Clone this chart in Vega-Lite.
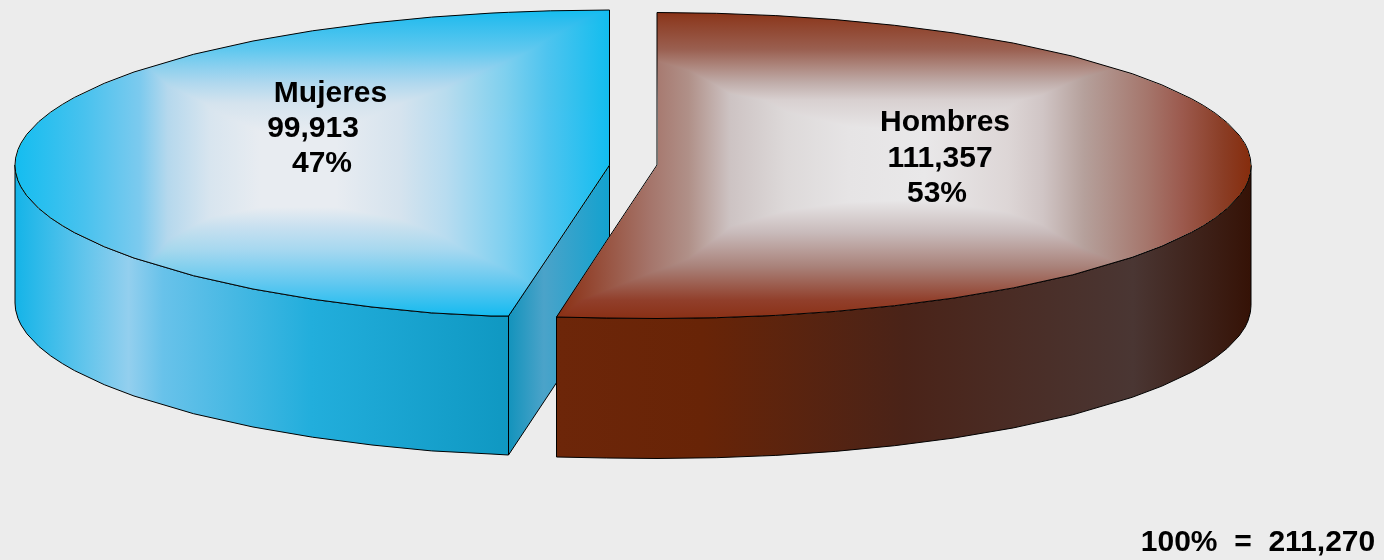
{
"$schema":"https://vega.github.io/schema/vega-lite/v6.json",
"width":1384,"height":560,"padding":0,
"autosize":{"type":"fit","contains":"padding"},
"background":"#ececec",
"config":{"view":{"stroke":null}},
"datasets":{
"blueCut":[{"i":1,"x":508.5,"y":316,"y2":455},{"i":2,"x":609.5,"y":165,"y2":303}],
"blueTop":[
{"i":1,"x":15,"y":165,"y2":165},{"i":2,"x":15.6,"y":158.1,"y2":171.9},{"i":3,"x":18,"y":149.5,"y2":180.5},{"i":4,"x":21,"y":143.1,"y2":186.9},{"i":5,"x":26.9,"y":134.2,"y2":195.8},{"i":6,"x":38.8,"y":121.6,"y2":208.4},{"i":7,"x":50.7,"y":112.1,"y2":217.9},{"i":8,"x":62.6,"y":104.3,"y2":225.7},{"i":9,"x":74.5,"y":97.4,"y2":232.6},{"i":10,"x":104.3,"y":83.3,"y2":246.7},{"i":11,"x":134,"y":72,"y2":258},{"i":12,"x":193.5,"y":54.3,"y2":275.7},{"i":13,"x":253,"y":41,"y2":289},{"i":14,"x":312.5,"y":30.8,"y2":299.2},{"i":15,"x":372,"y":23,"y2":307},{"i":16,"x":431.5,"y":17.1,"y2":312.9},{"i":17,"x":491,"y":13.1,"y2":316},{"i":18,"x":508.5,"y":12.3,"y2":316},{"i":19,"x":550.5,"y":10.8,"y2":253.5},{"i":20,"x":609.5,"y":10,"y2":165}],
"blueSide":[
{"i":1,"x":15,"y":165,"y2":303},{"i":2,"x":15.6,"y":171.9,"y2":309.9},{"i":3,"x":18,"y":180.5,"y2":318.5},{"i":4,"x":21,"y":186.9,"y2":324.9},{"i":5,"x":26.9,"y":195.8,"y2":333.8},{"i":6,"x":38.8,"y":208.4,"y2":346.4},{"i":7,"x":50.7,"y":217.9,"y2":355.9},{"i":8,"x":62.6,"y":225.7,"y2":363.7},{"i":9,"x":74.5,"y":232.6,"y2":370.6},{"i":10,"x":104.3,"y":246.7,"y2":384.7},{"i":11,"x":134,"y":258,"y2":396},{"i":12,"x":193.5,"y":275.7,"y2":413.7},{"i":13,"x":253,"y":289,"y2":427},{"i":14,"x":312.5,"y":299.2,"y2":437.2},{"i":15,"x":372,"y":307,"y2":445},{"i":16,"x":431.5,"y":312.9,"y2":450.9},{"i":17,"x":491,"y":316,"y2":454},{"i":18,"x":508.5,"y":316,"y2":455}],
"brownSide":[
{"i":1,"x":556.5,"y":317,"y2":457},{"i":2,"x":606.5,"y":318,"y2":458},{"i":3,"x":657,"y":318.5,"y2":458.5},{"i":4,"x":716.4,"y":317.7,"y2":457.7},{"i":5,"x":775.8,"y":315.4,"y2":455.4},{"i":6,"x":835.2,"y":311.4,"y2":451.4},{"i":7,"x":894.6,"y":305.7,"y2":445.7},{"i":8,"x":954,"y":298,"y2":438},{"i":9,"x":1013.4,"y":287.9,"y2":427.9},{"i":10,"x":1072.8,"y":274.8,"y2":414.8},{"i":11,"x":1132.2,"y":257.3,"y2":397.3},{"i":12,"x":1161.9,"y":246.1,"y2":386.1},{"i":13,"x":1191.6,"y":232.2,"y2":372.2},{"i":14,"x":1203.5,"y":225.5,"y2":365.5},{"i":15,"x":1215.4,"y":217.7,"y2":357.7},{"i":16,"x":1227.2,"y":208.3,"y2":348.3},{"i":17,"x":1239.1,"y":195.9,"y2":335.9},{"i":18,"x":1245.1,"y":187.1,"y2":327.1},{"i":19,"x":1248,"y":180.8,"y2":320.8},{"i":20,"x":1250.4,"y":172.3,"y2":312.3},{"i":21,"x":1251,"y":165.5,"y2":305.5}],
"brownTop":[
{"i":1,"x":556.5,"y":317,"y2":317},{"i":2,"x":606.5,"y":241,"y2":318},{"i":3,"x":657,"y":165,"y2":318.5},{"i":4,"x":657,"y":12.5,"y2":318.5},{"i":5,"x":716.4,"y":13.3,"y2":317.7},{"i":6,"x":775.8,"y":15.6,"y2":315.4},{"i":7,"x":835.2,"y":19.6,"y2":311.4},{"i":8,"x":894.6,"y":25.3,"y2":305.7},{"i":9,"x":954,"y":33,"y2":298},{"i":10,"x":1013.4,"y":43.1,"y2":287.9},{"i":11,"x":1072.8,"y":56.2,"y2":274.8},{"i":12,"x":1132.2,"y":73.7,"y2":257.3},{"i":13,"x":1161.9,"y":84.9,"y2":246.1},{"i":14,"x":1191.6,"y":98.8,"y2":232.2},{"i":15,"x":1203.5,"y":105.5,"y2":225.5},{"i":16,"x":1215.4,"y":113.3,"y2":217.7},{"i":17,"x":1227.2,"y":122.7,"y2":208.3},{"i":18,"x":1239.1,"y":135.1,"y2":195.9},{"i":19,"x":1245.1,"y":143.9,"y2":187.1},{"i":20,"x":1248,"y":150.2,"y2":180.8},{"i":21,"x":1250.4,"y":158.7,"y2":172.3},{"i":22,"x":1251,"y":165.5,"y2":165.5}],
"labels":[
{"label":"Mujeres","x":330.5,"y":93},{"label":"99,913","x":313,"y":128},{"label":"47%","x":322,"y":163},
{"label":"Hombres","x":945,"y":122},{"label":"111,357","x":940,"y":158},{"label":"53%","x":937,"y":193},
{"label":"100%\u00a0\u00a0=\u00a0\u00a0211,270","x":1258,"y":542}]
},
"encoding":{
"x":{"field":"x","type":"quantitative","axis":null,"scale":{"domain":[0,1384],"nice":false,"zero":false}},
"y":{"field":"y","type":"quantitative","axis":null,"scale":{"domain":[560,0],"nice":false,"zero":false}}
},
"layer":[
{"data":{"name":"blueCut"},"mark":{"type":"area","orient":"vertical","stroke":"#000","strokeWidth":1,"color":{"gradient":"linear","x1":0,"y1":0,"x2":1,"y2":0,"stops":[{"offset":0,"color":"#1393bc"},{"offset":0.35,"color":"#4ba3c9"},{"offset":1,"color":"#12a2cf"}]}},"encoding":{"y2":{"field":"y2"}}},
{"data":{"name":"blueSide"},"mark":{"type":"area","orient":"vertical","stroke":"#000","strokeWidth":1,"color":{"gradient":"linear","x1":0,"y1":0,"x2":1,"y2":0,"stops":[{"offset":0,"color":"#14b4e8"},{"offset":0.23,"color":"#93cfee"},{"offset":0.3,"color":"#68c2ea"},{"offset":0.6,"color":"#22aedc"},{"offset":1,"color":"#0f98c2"}]}},"encoding":{"y2":{"field":"y2"}}},
{"data":{"name":"blueTop"},"mark":{"type":"area","orient":"vertical","color":{"gradient":"linear","x1":0,"y1":0,"x2":1,"y2":0,"stops":[{"offset":0,"color":"#14bdf0"},{"offset":0.116,"color":"#48c2ee"},{"offset":0.21,"color":"#7ccaee"},{"offset":0.257,"color":"#b5d8ed"},{"offset":0.328,"color":"#d8e5ef"},{"offset":0.414,"color":"#e8ecf1"},{"offset":0.54,"color":"#e8ecf1"},{"offset":0.648,"color":"#d5e3ee"},{"offset":0.725,"color":"#b8dcf0"},{"offset":0.824,"color":"#7fd0f0"},{"offset":0.895,"color":"#4ec4ef"},{"offset":1,"color":"#12bdf0"}]}},"encoding":{"y2":{"field":"y2"}}},
{"data":{"name":"blueTop"},"mark":{"type":"area","orient":"vertical","blend":"darken","stroke":"#000","strokeWidth":1,"color":{"gradient":"linear","x1":0,"y1":0,"x2":0,"y2":1,"stops":[{"offset":0,"color":"#12bdf0"},{"offset":0.033,"color":"#2cbdee"},{"offset":0.13,"color":"#60c8ef"},{"offset":0.186,"color":"#8bd0ef"},{"offset":0.239,"color":"#b0d8ee"},{"offset":0.304,"color":"#d4e3ee"},{"offset":0.4,"color":"#e8ecf1"},{"offset":0.644,"color":"#e8ecf1"},{"offset":0.709,"color":"#c8e0f0"},{"offset":0.784,"color":"#a6d8f0"},{"offset":0.892,"color":"#62c8f0"},{"offset":0.99,"color":"#1cbcf0"},{"offset":1,"color":"#12bdf0"}]}},"encoding":{"y2":{"field":"y2"}}},
{"data":{"name":"brownSide"},"mark":{"type":"area","orient":"vertical","stroke":"#000","strokeWidth":1,"color":{"gradient":"linear","x1":0,"y1":0,"x2":1,"y2":0,"stops":[{"offset":0,"color":"#6d2609"},{"offset":0.21,"color":"#682407"},{"offset":0.5,"color":"#4a2318"},{"offset":0.83,"color":"#4a3633"},{"offset":1,"color":"#351206"}]}},"encoding":{"y2":{"field":"y2"}}},
{"data":{"name":"brownTop"},"mark":{"type":"area","orient":"vertical","color":{"gradient":"linear","x1":0,"y1":0,"x2":1,"y2":0,"stops":[{"offset":0,"color":"#8a2e12"},{"offset":0.135,"color":"#a5756b"},{"offset":0.19,"color":"#b09088"},{"offset":0.25,"color":"#cdc3c3"},{"offset":0.33,"color":"#ddd9d9"},{"offset":0.42,"color":"#e6e4e5"},{"offset":0.53,"color":"#e9e8e9"},{"offset":0.65,"color":"#ddd6d6"},{"offset":0.7,"color":"#d0c5c5"},{"offset":0.76,"color":"#b5a09b"},{"offset":0.85,"color":"#a5766c"},{"offset":0.9,"color":"#9c5a4e"},{"offset":0.96,"color":"#8a3d25"},{"offset":1,"color":"#862c0c"}]}},"encoding":{"y2":{"field":"y2"}}},
{"data":{"name":"brownTop"},"mark":{"type":"area","orient":"vertical","blend":"darken","stroke":"#000","strokeWidth":1,"color":{"gradient":"linear","x1":0,"y1":0,"x2":0,"y2":1,"stops":[{"offset":0,"color":"#8a3015"},{"offset":0.015,"color":"#8c3a20"},{"offset":0.12,"color":"#9a5f50"},{"offset":0.23,"color":"#c0adaa"},{"offset":0.286,"color":"#d8d0d0"},{"offset":0.39,"color":"#e9e8e9"},{"offset":0.61,"color":"#e9e8e9"},{"offset":0.72,"color":"#c8baba"},{"offset":0.83,"color":"#a9827a"},{"offset":0.94,"color":"#913f2b"},{"offset":1,"color":"#8a3015"}]}},"encoding":{"y2":{"field":"y2"}}},
{"data":{"name":"labels"},"mark":{"type":"text","font":"Liberation Sans","fontWeight":"bold","fontSize":30,"color":"#000","align":"center","baseline":"middle"},"encoding":{"text":{"field":"label"}}}
]
}
